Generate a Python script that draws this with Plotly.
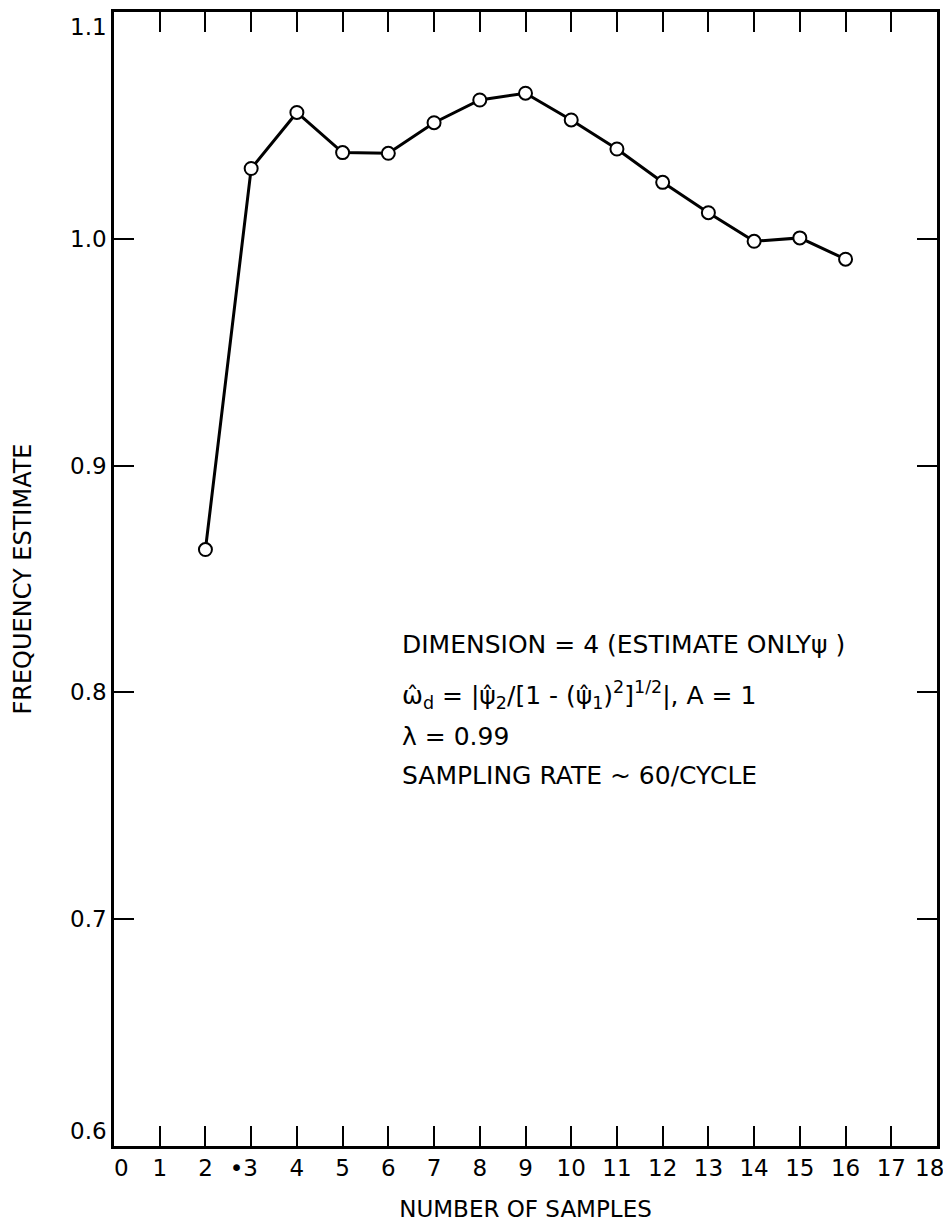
import plotly.graph_objects as go

samples = [2, 3, 4, 5, 6, 7, 8, 9, 10, 11, 12, 13, 14, 15, 16]
freq_est = [0.863, 1.031, 1.0557, 1.038, 1.0377, 1.0512, 1.0612, 1.0642,
            1.0524, 1.0396, 1.0249, 1.0115, 0.9989, 1.0004, 0.9910]

x_tickvals = list(range(0, 19))
x_ticklabels = [str(v) for v in x_tickvals]
x_ticklabels[3] = "\u20223"
y_tickvals = [0.6, 0.7, 0.8, 0.9, 1.0, 1.1]
y_ticklabels = ["0.6", "0.7", "0.8", "0.9", "1.0", "1.1"]

NB = "\u00a0"
x_ticktext = list(x_ticklabels)
x_ticktext[0] = NB * 2 + x_ticktext[0]
x_ticktext[3] = x_ticktext[3] + NB * 2
x_ticktext[18] = x_ticktext[18] + NB * 2
y_ticktext = list(y_ticklabels)
y_ticktext[0] = y_ticktext[0] + "<br>" + NB
y_ticktext[-1] = NB + "<br>" + y_ticktext[-1]

FONT = "DejaVu Sans"

fig = go.Figure()
fig.add_trace(go.Scatter(
    x=samples, y=freq_est, mode="lines+markers",
    line=dict(color="black", width=3),
    marker=dict(symbol="circle", size=13, color="white",
                line=dict(color="black", width=2)),
    showlegend=False,
))

notes = [
    ("DIMENSION = 4 (ESTIMATE ONLY\u03c8 )", 0.4418),
    ("\u03c9\u0302<sub>d</sub> = |\u03c8\u0302<sub>2</sub>/[1 - (\u03c8\u0302<sub>1</sub>)<sup>2</sup>]<sup>1/2</sup>|, A = 1", 0.398),
    ("\u03bb = 0.99", 0.3607),
    ("SAMPLING RATE ~ 60/CYCLE", 0.3263),
]
for txt, yy in notes:
    fig.add_annotation(text=txt, xref="paper", yref="paper", x=0.3475, y=yy,
                       xanchor="left", yanchor="middle", showarrow=False,
                       font=dict(family=FONT, size=25, color="black"))

axis_common = dict(
    showgrid=False, zeroline=False, showline=True, linecolor="black",
    linewidth=2.5, mirror="ticks", ticks="inside", ticklen=20, tickwidth=1.5,
    tickcolor="black", tickfont=dict(family=FONT, size=23, color="black"),
    ticklabeloverflow="allow", automargin=False,
)

fig.update_xaxes(range=[0, 18], tickvals=x_tickvals, ticktext=x_ticktext,
                 title=dict(text="NUMBER OF SAMPLES", standoff=22,
                            font=dict(family=FONT, size=23, color="black")),
                 **axis_common)
fig.update_yaxes(range=[0.6, 1.1], tickvals=y_tickvals, ticktext=y_ticktext,
                 title=dict(text="FREQUENCY ESTIMATE", standoff=32,
                            font=dict(family=FONT, size=24, color="black")),
                 **axis_common)

fig.update_layout(
    width=943, height=1222,
    margin=dict(l=114, r=6, t=12, b=76),
    plot_bgcolor="white", paper_bgcolor="white",
    font=dict(family=FONT, color="black"),
)

fig.write_html("out.html", config={"displayModeBar": False},
               post_script="document.body.style.margin='0';document.body.style.overflow='hidden';")
